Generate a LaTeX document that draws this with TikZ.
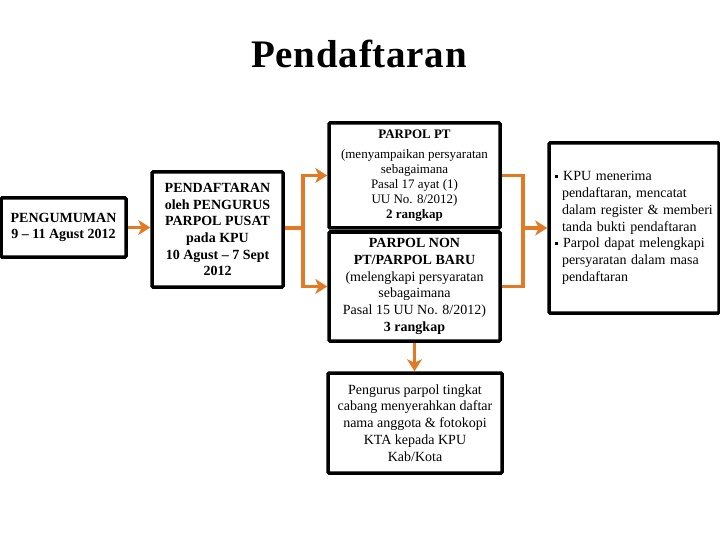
\documentclass[tikz,border=0pt]{standalone}
\usepackage{fontspec}
\setmainfont{Liberation Serif}
\usetikzlibrary{arrows.meta}
\definecolor{arrorange}{RGB}{226,121,36}
\newcommand{\sqbul}{\rule[2.5pt]{3.2pt}{3.2pt}}
\tikzset{
  boxx/.style={draw=black, line width=3.5pt, rounded corners=1pt, inner sep=0pt, align=center, fill=white},
  oline/.style={draw=arrorange, line width=3.5pt},
  arr/.style={oline, -{Stealth[length=12pt,width=15pt,inset=3.5pt]}}
}
\begin{document}
\begin{tikzpicture}[x=1pt,y=-1pt]
\useasboundingbox (0,0) rectangle (720,540);
\node[anchor=base, font=\fontsize{39}{40}\selectfont\bfseries\addfontfeatures{LetterSpace=2}] (title) at (359,68) {Pendaftaran};

\node[boxx, minimum width=125pt, minimum height=59pt, font=\fontsize{14}{16.5}\selectfont\bfseries] (b1) at (63.5,227.5)
  {PENGUMUMAN\\9 -- 11 Agust 2012};

\node[boxx, minimum width=131pt, minimum height=115pt, font=\fontsize{14}{16.7}\selectfont\bfseries] (b2) at (217.5,229.5)
  {PENDAFTARAN\\oleh PENGURUS\\PARPOL PUSAT\\pada KPU\\10 Agust -- 7 Sept\\2012};

\node[boxx, minimum width=171pt, minimum height=105pt, font=\fontsize{13}{15}\selectfont] (pt) at (414.5,175.5)
  {\textbf{PARPOL PT}\\[5pt](menyampaikan persyaratan\\sebagaimana\\Pasal 17 ayat (1)\\UU No. 8/2012)\\\textbf{2 rangkap}};

\node[boxx, minimum width=171pt, minimum height=109pt, font=\fontsize{14}{16.8}\selectfont] (non) at (414.5,286.5)
  {\textbf{PARPOL NON}\\\textbf{PT/PARPOL BARU}\\(melengkapi persyaratan\\sebagaimana\\Pasal 15 UU No. 8/2012)\\\textbf{3 rangkap}};

\node[boxx, minimum width=174pt, minimum height=100pt, font=\fontsize{14}{16.8}\selectfont] (bot) at (415,423)
  {Pengurus parpol tingkat\\cabang menyerahkan daftar\\nama anggota \& fotokopi\\KTA kepada KPU\\Kab/Kota};

\node[boxx, minimum width=170pt, minimum height=170pt, text width=158pt, align=left, font=\fontsize{14}{16.8}\selectfont] (kpu) at (634,228)
  {\sqbul\hspace{5pt}KPU menerima\\\hspace*{7pt}pendaftaran, mencatat\\\hspace*{7pt}dalam register \& memberi\\\hspace*{7pt}tanda bukti pendaftaran\\\sqbul\hspace{5pt}Parpol dapat melengkapi\\\hspace*{7pt}persyaratan dalam masa\\\hspace*{7pt}pendaftaran};

\coordinate (j1) at (303,228);
\coordinate (j2) at (523,228);

\draw[arr] (b1.east) -- (b1.east -| b2.west);
\draw[oline] (b2.east |- j1) -- (j1);
\draw[arr] (j1) |- (pt.west);
\draw[arr] (j1) |- (non.west);
\draw[oline] (pt.east) -| (j2);
\draw[oline] (non.east) -| (j2);
\draw[arr] (j2) -- (kpu.west);
\draw[arr] (non.south) -- (non.south |- bot.north);
\end{tikzpicture}
\end{document}
